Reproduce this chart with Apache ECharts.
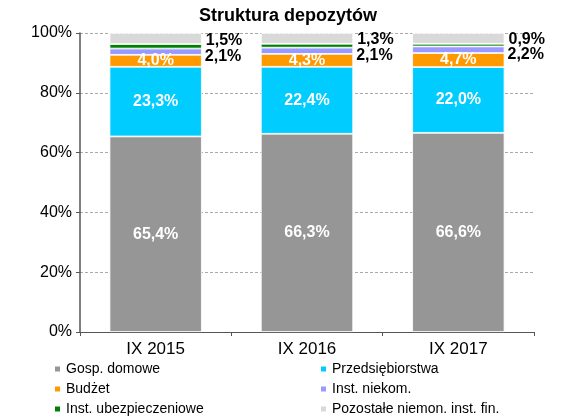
<!DOCTYPE html>
<html>
<head>
<meta charset="utf-8">
<script src="https://cdn.jsdelivr.net/npm/echarts@6/dist/echarts.min.js"></script>
<style>
  html, body { margin: 0; padding: 0; background: #fff; }
  #chart { width: 573px; height: 417px; }
</style>
</head>
<body>
<div id="chart"></div>
<script>
// dane
const categories = ['IX 2015', 'IX 2016', 'IX 2017'];
const gospDomowe = [65.4, 66.3, 66.6];
const przedsiebiorstwa = [23.3, 22.4, 22.0];
const budzet = [4.0, 4.3, 4.7];
const instNiekom = [2.1, 2.1, 2.2];
const instUbezp = [1.5, 1.3, 0.9];
const pozostale = [3.7, 3.6, 3.6];
const yTicks = [0, 20, 40, 60, 80, 100];

const FONT = '"Liberation Sans", Arial, sans-serif';

function fmt(p) {
    return p.value.toFixed(1).replace('.', ',') + '%';
}

function makeSeries(name, data, color, label) {
    return {
        name: name,
        type: 'bar',
        stack: 'total',
        barWidth: '61%',
        data: data,
        itemStyle: { color: color, borderColor: '#fff', borderWidth: 0.8 },
        label: label,
        emphasis: { disabled: true },
    };
}

const insideLabel = {
    show: true,
    position: 'inside',
    color: '#fff',
    fontFamily: FONT,
    fontWeight: 'bold',
    fontSize: 16,
    formatter: fmt,
};

function legendCfg(left, names) {
    return {
        orient: 'vertical',
        left: left,
        top: 362,
        height: 60,
        padding: 0,
        itemWidth: 7,
        itemHeight: 7,
        itemGap: 6,
        icon: 'rect',
        textStyle: { fontFamily: FONT, fontSize: 14, color: '#000' },
        data: names,
    };
}

const chart = echarts.init(document.getElementById('chart'));
const option = {
    animation: false,
    title: {
        text: 'Struktura depozytów',
        left: 283,
        textAlign: 'center',
        top: 2,
        textStyle: { fontFamily: FONT, fontSize: 18, fontWeight: 'bold', color: '#000' },
    },
    grid: { left: 80, right: 39, top: 33, bottom: 85 },
    legend: [
        legendCfg(53, ['Gosp. domowe', 'Budżet', 'Inst. ubezpieczeniowe']),
        legendCfg(319, ['Przedsiębiorstwa', 'Inst. niekom.', 'Pozostałe niemon. inst. fin.']),
    ],
    xAxis: {
        type: 'category',
        data: categories,
        axisLine: { lineStyle: { color: '#555', width: 1.2 } },
        axisTick: { show: true, length: 4, lineStyle: { color: '#555' } },
        axisLabel: { fontFamily: FONT, fontSize: 17, color: '#000', margin: 9 },
    },
    yAxis: {
        type: 'value',
        min: yTicks[0],
        max: yTicks[yTicks.length - 1],
        interval: 20,
        axisLine: { show: true, lineStyle: { color: '#555', width: 1.5 } },
        axisTick: { show: true, length: 4, lineStyle: { color: '#555' } },
        axisLabel: { fontFamily: FONT, fontSize: 16, color: '#000', margin: 8, formatter: '{value}%' },
        splitLine: { lineStyle: { color: '#aaa', type: [3, 2] } },
    },
    series: [
        makeSeries('Gosp. domowe', gospDomowe, '#969696', insideLabel),
        makeSeries('Przedsiębiorstwa', przedsiebiorstwa, '#00CCFF', insideLabel),
        makeSeries('Budżet', budzet, '#FF9900', insideLabel),
        makeSeries('Inst. niekom.', instNiekom, '#9999FF', {
            show: true, position: 'right', distance: 3, offset: [0, 5],
            color: '#000', fontFamily: FONT, fontWeight: 'bold', fontSize: 16, formatter: fmt,
        }),
        makeSeries('Inst. ubezpieczeniowe', instUbezp, '#008000', {
            show: true, position: 'right', distance: 4, offset: [0, -6],
            color: '#000', fontFamily: FONT, fontWeight: 'bold', fontSize: 16, formatter: fmt,
        }),
        makeSeries('Pozostałe niemon. inst. fin.', pozostale, '#D9D9D9', { show: false }),
    ],
};
chart.setOption(option);
</script>
</body>
</html>
